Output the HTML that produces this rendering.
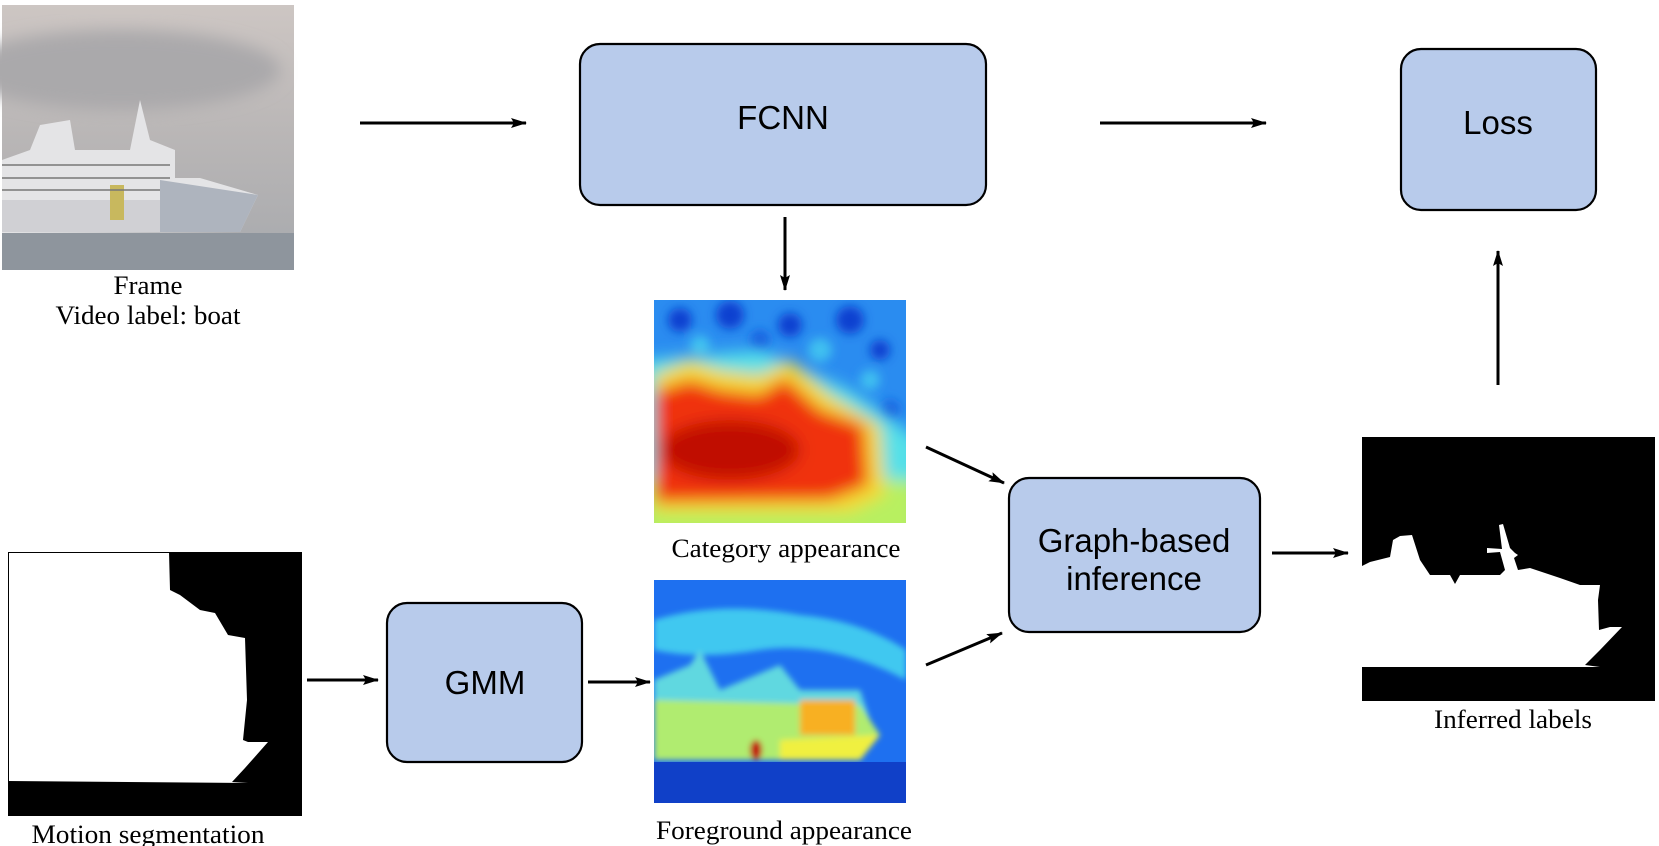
<!DOCTYPE html>
<html><head><meta charset="utf-8">
<style>
html,body{margin:0;padding:0;background:#fff;}
svg{display:block;}
.box{fill:#b8cbeb;stroke:#000;stroke-width:2.2;}
.s{font-family:"Liberation Sans",sans-serif;font-size:33px;fill:#000;}
.r{font-family:"Liberation Serif",serif;font-size:26px;fill:#000;}
</style></head><body>
<svg width="1659" height="846" viewBox="0 0 1659 846" xmlns="http://www.w3.org/2000/svg">
<defs>
<marker id="ah" markerWidth="16" markerHeight="10" refX="15" refY="5" orient="auto" markerUnits="userSpaceOnUse">
<path d="M0,0 L16,5 L0,10 L3,5 Z" fill="#000"/></marker>
<linearGradient id="sky" x1="0" y1="0" x2="0" y2="1">
<stop offset="0" stop-color="#cdc6c3"/><stop offset="0.5" stop-color="#b9b6b6"/><stop offset="1" stop-color="#a7a9ad"/></linearGradient>
<filter id="bl" x="-20%" y="-20%" width="140%" height="140%"><feGaussianBlur stdDeviation="8"/></filter>
<filter id="bl2"><feGaussianBlur stdDeviation="3"/></filter>
<filter id="bl3"><feGaussianBlur stdDeviation="5"/></filter>
<clipPath id="c1"><rect x="654" y="300" width="252" height="223"/></clipPath>
<clipPath id="c2"><rect x="654" y="580" width="252" height="223"/></clipPath>
</defs>

<!-- Frame photo -->
<rect x="2" y="5" width="292" height="265" fill="url(#sky)"/>
<ellipse cx="120" cy="70" rx="160" ry="40" fill="#aaa9ab" filter="url(#bl)"/>
<rect x="2" y="233" width="292" height="37" fill="#8e959d"/>
<path d="M2,160 L30,150 L40,125 L70,120 L75,150 L130,150 L140,100 L150,140 L175,150 L175,178 L200,178 L258,195 L240,232 L2,233 Z" fill="#e4e4e6"/>
<path d="M2,200 L160,200 L160,232 L2,232 Z" fill="#d0d0d4"/>
<path d="M160,180 L258,195 L240,232 L160,232 Z" fill="#aeb4be"/>
<rect x="110" y="185" width="14" height="35" fill="#c8b85e"/>
<g stroke="#777" stroke-width="1.5"><line x1="2" y1="165" x2="170" y2="165"/><line x1="2" y1="178" x2="170" y2="178"/><line x1="2" y1="190" x2="160" y2="190"/></g>
<text class="r" x="148" y="294" text-anchor="middle" textLength="69" lengthAdjust="spacingAndGlyphs">Frame</text>
<text class="r" x="148" y="324" text-anchor="middle" textLength="185" lengthAdjust="spacingAndGlyphs">Video label: boat</text>

<!-- FCNN -->
<rect class="box" x="580" y="44" width="406" height="161" rx="20"/>
<text class="s" x="783" y="129" text-anchor="middle">FCNN</text>
<line x1="360" y1="123" x2="526" y2="123" stroke="#000" stroke-width="3" marker-end="url(#ah)"/>
<line x1="1100" y1="123" x2="1266" y2="123" stroke="#000" stroke-width="3" marker-end="url(#ah)"/>
<rect class="box" x="1401" y="49" width="195" height="161" rx="20"/>
<text class="s" x="1498" y="134" text-anchor="middle">Loss</text>
<line x1="785" y1="217" x2="785" y2="290" stroke="#000" stroke-width="3" marker-end="url(#ah)"/>

<!-- Category heatmap -->
<g clip-path="url(#c1)">
<rect x="654" y="300" width="252" height="223" fill="#2a8cf0"/>
<g filter="url(#bl3)">
<circle cx="680" cy="320" r="12" fill="#1040d0"/><circle cx="730" cy="315" r="14" fill="#1040d0"/>
<circle cx="790" cy="325" r="12" fill="#1040d0"/><circle cx="850" cy="320" r="14" fill="#1040d0"/>
<circle cx="880" cy="350" r="10" fill="#1040d0"/><circle cx="700" cy="345" r="10" fill="#40c0f0"/>
<circle cx="820" cy="350" r="12" fill="#40c0f0"/><circle cx="760" cy="340" r="10" fill="#1860e0"/>
<circle cx="890" cy="410" r="10" fill="#1860e0"/><circle cx="870" cy="380" r="10" fill="#40c0f0"/>
</g>
<g filter="url(#bl)">
<path d="M640,360 L760,350 L850,390 L920,440 L920,540 L640,540 Z" fill="#55e0e8"/>
<rect x="640" y="480" width="280" height="60" fill="#b8f060"/>
<path d="M654,375 L690,360 L720,370 L760,375 L790,360 L830,395 L880,425 L885,495 L850,512 L654,512 Z" fill="#f4d830"/>
<path d="M654,392 L690,380 L720,390 L760,395 L785,378 L820,410 L864,425 L868,485 L830,500 L654,502 Z" fill="#f03010"/>
<ellipse cx="730" cy="450" rx="70" ry="30" fill="#c01005"/>
</g>
</g>
<text class="r" x="786" y="557" text-anchor="middle" textLength="229" lengthAdjust="spacingAndGlyphs">Category appearance</text>

<!-- Foreground heatmap -->
<g clip-path="url(#c2)">
<rect x="654" y="580" width="252" height="223" fill="#1e70f0"/>
<g filter="url(#bl2)">
<path d="M654,620 Q720,600 800,615 Q860,620 906,650 L906,680 Q830,640 760,650 Q700,660 654,650 Z" fill="#40c8f0"/>
<path d="M654,680 L690,665 L700,650 L720,690 L780,665 L800,690 L860,690 L875,735 L860,755 L654,755 Z" fill="#60d8e0"/>
<path d="M654,700 L860,705 L880,735 L860,760 L654,760 Z" fill="#b0ec70"/>
<rect x="800" y="700" width="55" height="35" fill="#f8b020"/>
<path d="M780,740 L880,735 L860,760 L780,760 Z" fill="#f0f040"/>
<ellipse cx="756" cy="750" rx="6" ry="10" fill="#c01010"/>
</g>
<rect x="654" y="762" width="252" height="41" fill="#1040c8"/>
</g>
<text class="r" x="784" y="839" text-anchor="middle" textLength="256" lengthAdjust="spacingAndGlyphs">Foreground appearance</text>

<!-- Motion segmentation -->
<rect x="8" y="552" width="294" height="264" fill="#000"/>
<path d="M8,552 L169,552 L170,590 L180,595 L200,610 L215,613 L228,635 L245,638 L247,700 L243,740 L248,742 L268,742 L245,768 L232,782 L248,783 L8,781 Z" fill="#fff"/>
<rect x="8.5" y="552.5" width="293" height="263" fill="none" stroke="#000" stroke-width="1"/>
<text class="r" x="148" y="843" text-anchor="middle" textLength="233" lengthAdjust="spacingAndGlyphs">Motion segmentation</text>

<!-- GMM -->
<line x1="307" y1="680" x2="378" y2="680" stroke="#000" stroke-width="3" marker-end="url(#ah)"/>
<rect class="box" x="387" y="603" width="195" height="159" rx="20"/>
<text class="s" x="485" y="694" text-anchor="middle">GMM</text>
<line x1="588" y1="682" x2="650" y2="682" stroke="#000" stroke-width="3" marker-end="url(#ah)"/>

<!-- Graph-based inference -->
<line x1="926" y1="447" x2="1004" y2="483" stroke="#000" stroke-width="3" marker-end="url(#ah)"/>
<line x1="926" y1="665" x2="1002" y2="633" stroke="#000" stroke-width="3" marker-end="url(#ah)"/>
<rect class="box" x="1009" y="478" width="251" height="154" rx="20"/>
<text class="s" x="1134" y="552" text-anchor="middle">Graph-based</text>
<text class="s" x="1134" y="590" text-anchor="middle">inference</text>
<line x1="1272" y1="553" x2="1348" y2="553" stroke="#000" stroke-width="3" marker-end="url(#ah)"/>

<!-- Inferred labels -->
<rect x="1362" y="437" width="293" height="264" fill="#000"/>
<path d="M1362,566 L1370,562 L1390,557 L1393,540 L1400,536 L1412,535 L1420,560 L1430,575 L1450,575 L1455,584 L1460,575 L1500,575 L1505,570 L1500,552 L1487,553 L1487,548 L1502,549 L1499,525 L1503,524 L1510,548 L1515,553 L1518,555 L1514,558 L1518,570 L1530,568 L1560,578 L1580,585 L1600,585 L1598,600 L1599,630 L1610,627 L1622,627 L1600,650 L1585,665 L1600,667 L1362,667 Z" fill="#fff"/>
<text class="r" x="1513" y="728" text-anchor="middle" textLength="158" lengthAdjust="spacingAndGlyphs">Inferred labels</text>
<line x1="1498" y1="385" x2="1498" y2="251" stroke="#000" stroke-width="3" marker-end="url(#ah)"/>
</svg>
</body></html>
